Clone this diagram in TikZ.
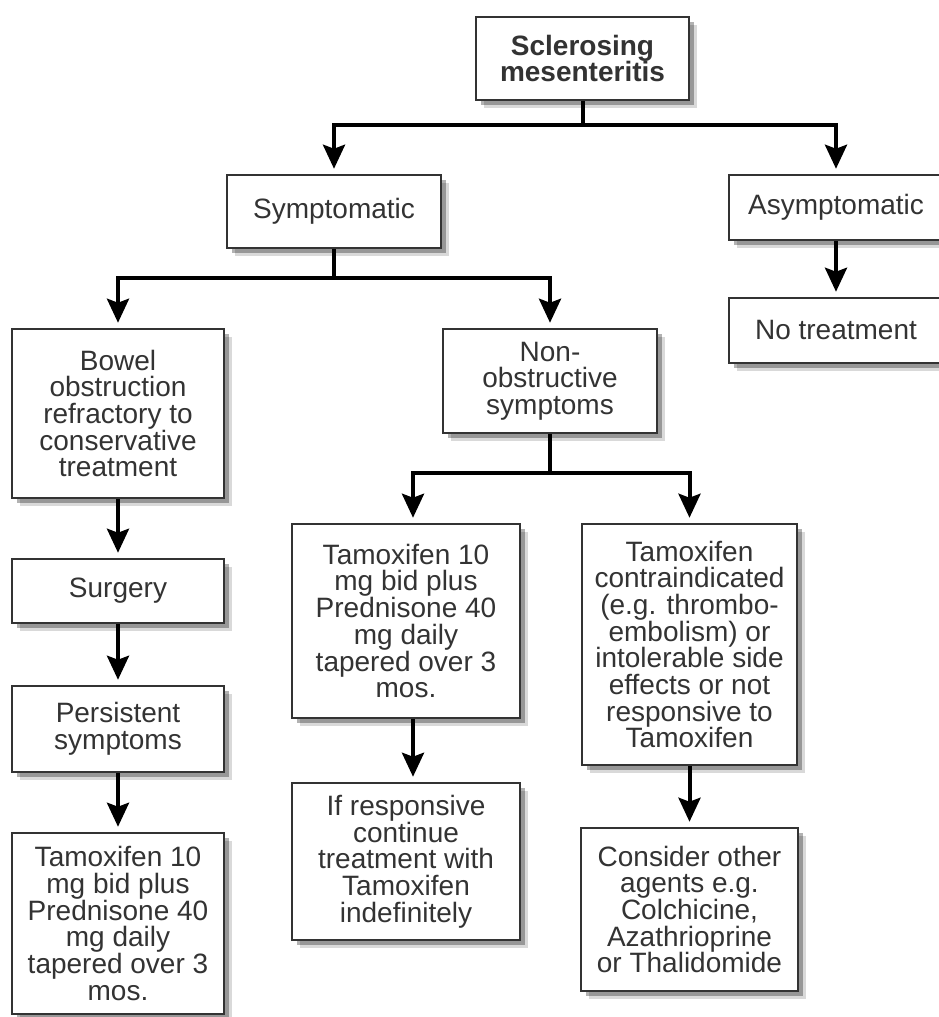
\documentclass[tikz,border=0pt]{standalone}
\usepackage{fontspec}
\setmainfont{Liberation Sans}
\usetikzlibrary{arrows.meta,shadows}
\definecolor{boxline}{rgb}{0.2,0.2,0.2}
\definecolor{txt}{rgb}{0.2,0.2,0.2}
\tikzset{
  box/.style={draw=boxline, line width=2.5pt, fill=white, inner sep=0pt,
    align=center, text=txt, font=\fontsize{28}{26.7}\selectfont,
    drop shadow={shadow xshift=8pt, shadow yshift=-8pt, fill=black, opacity=0.15},
    drop shadow={shadow xshift=5pt, shadow yshift=-5pt, fill=black, opacity=0.3}},
  conn/.style={line width=4pt, black},
  arr/.style={conn, -{Stealth[width=22pt,length=24pt,inset=4pt]}, shorten >=5pt},
}
\begin{document}
\begin{tikzpicture}[x=1pt,y=-1pt]
\useasboundingbox (0,0) rectangle (939,1017);
% boxes
\node[box, minimum width=213pt, minimum height=83pt] (top) at (582.5,58.5) {\bfseries Sclerosing\\\bfseries mesenteritis};
\node[box, minimum width=214pt, minimum height=73pt] (sym) at (334,211.5) {Symptomatic};
\node[box, minimum width=214pt, minimum height=65pt] (asym) at (836,207.5) {Asymptomatic};
\node[box, minimum width=214pt, minimum height=65pt] (notr) at (836,330.5) {No treatment};
\node[box, minimum width=212pt, minimum height=169pt] (bowel) at (118,413.5) {Bowel\\obstruction\\refractory to\\conservative\\treatment};
\node[box, minimum width=212pt, minimum height=64pt] (surg) at (118,591) {Surgery};
\node[box, minimum width=212pt, minimum height=86pt] (pers) at (118,729) {Persistent\\symptoms};
\node[box, minimum width=212pt, minimum height=181pt] (tamA) at (118,923.5) {Tamoxifen 10\\mg bid plus\\Prednisone 40\\mg daily\\tapered over 3\\mos.};
\node[box, minimum width=214pt, minimum height=104pt] (nonobs) at (550,381) {Non-\\obstructive\\symptoms};
\node[box, minimum width=228pt, minimum height=194pt] (tamB) at (406,621) {Tamoxifen 10\\mg bid plus\\Prednisone 40\\mg daily\\tapered over 3\\mos.};
\node[box, minimum width=228pt, minimum height=157pt] (resp) at (406,861.5) {If responsive\\continue\\treatment with\\Tamoxifen\\indefinitely};
\node[box, minimum width=215pt, minimum height=241pt] (contra) at (689.5,644.5) {Tamoxifen\\contraindicated\\(e.g. thrombo-\\embolism) or\\intolerable side\\effects or not\\responsive to\\Tamoxifen};
\node[box, minimum width=217pt, minimum height=163pt] (cons) at (689.5,909.5) {Consider other\\agents e.g.\\Colchicine,\\Azathrioprine\\or Thalidomide};
% junctions
\coordinate (j1) at (582.5,125);
\coordinate (j2) at (334,278);
\coordinate (j3) at (550,473);
% connectors
\draw[conn] (top.south) -- (j1);
\draw[arr] (j1) -| (sym.north);
\draw[arr] (j1) -| (asym.north);
\draw[arr] (asym.south) -- (notr.north);
\draw[conn] (sym.south) -- (j2);
\draw[arr] (j2) -| (bowel.north);
\draw[arr] (j2) -| (nonobs.north);
\draw[arr] (bowel.south) -- (surg.north);
\draw[arr] (surg.south) -- (pers.north);
\draw[arr] (pers.south) -- (tamA.north);
\draw[conn] (nonobs.south) -- (j3);
\draw[arr] (j3) -| ([xshift=7pt]tamB.north);
\draw[arr] (j3) -| (contra.north);
\draw[arr] ([xshift=7pt]tamB.south) -- ([xshift=7pt]resp.north);
\draw[arr] (contra.south) -- (cons.north);
\end{tikzpicture}
\end{document}
